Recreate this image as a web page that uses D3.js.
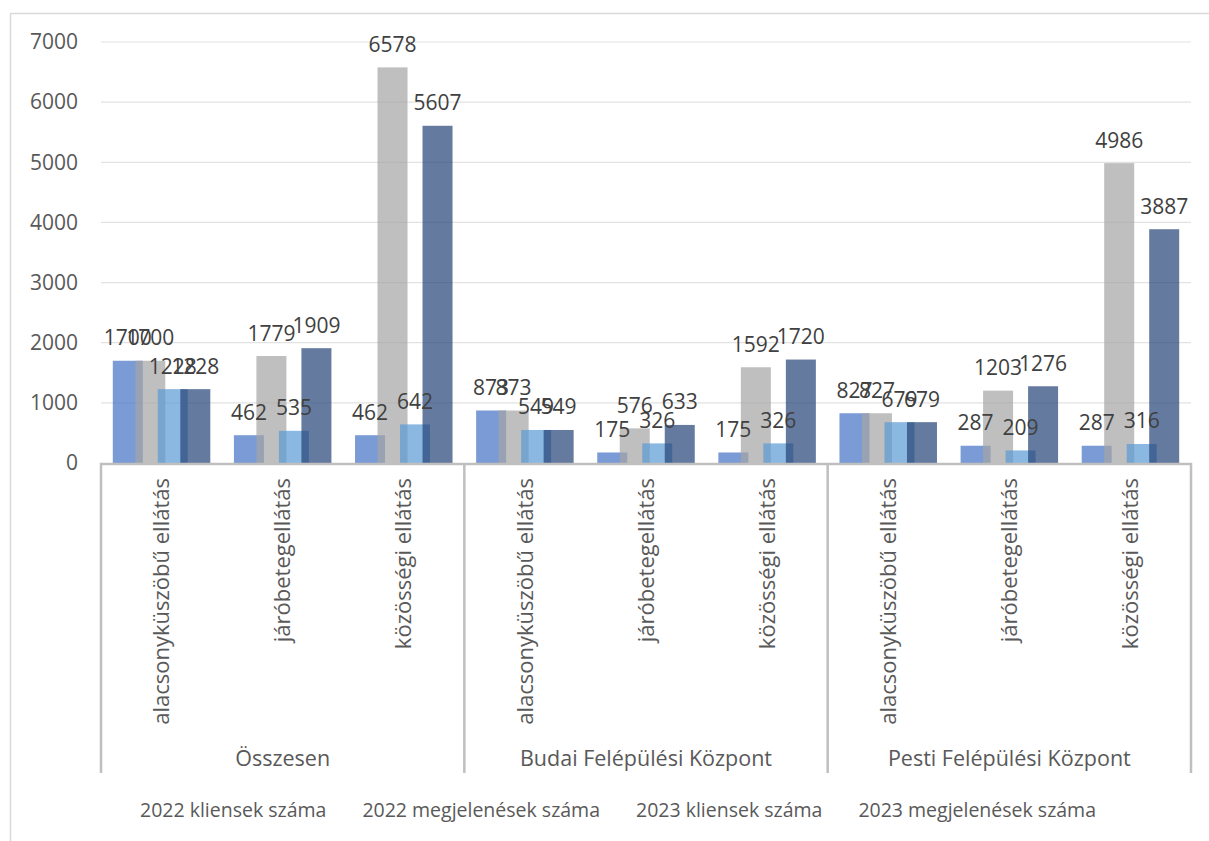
<!DOCTYPE html>
<html>
<head>
<meta charset="utf-8">
<title>Ellátás</title>
<script src="https://cdn.jsdelivr.net/npm/d3@7/dist/d3.min.js"></script>
<style>
	body { margin: 0; background: #fff; }
	text { font-family: "Open Sans", "Noto Sans", sans-serif; }
</style>
</head>
<body>
<div id="chart"></div>
<script>
	// adatok
	let groups = ["Összesen", "Budai Felépülési Központ", "Pesti Felépülési Központ"];
	let subcats = ["alacsonyküszöbű ellátás", "járóbetegellátás", "közösségi ellátás"];
	let seriesNames = ["2022 kliensek száma", "2022 megjelenések száma", "2023 kliensek száma", "2023 megjelenések száma"];
	let kliensek2022     = [1700, 462, 462,   873, 175, 175,   827, 287, 287];
	let megjelenesek2022 = [1700, 1779, 6578, 873, 576, 1592,  827, 1203, 4986];
	let kliensek2023     = [1228, 535, 642,   549, 326, 326,   679, 209, 316];
	let megjelenesek2023 = [1228, 1909, 5607, 549, 633, 1720,  679, 1276, 3887];
	let yTicks = [0, 1000, 2000, 3000, 4000, 5000, 6000, 7000];

	let seriesValues = [kliensek2022, megjelenesek2022, kliensek2023, megjelenesek2023];
	let colors = ["#4472C4", "#A5A5A5", "#5B9BD5", "#264478"];

	let width = 1209, height = 841;
	let plotLeft = 101, plotRight = 1191, plotTop = 42, plotBottom = 463;

	let svg = d3.select("#chart").append("svg")
		.attr("width", width).attr("height", height);

	// keret
	svg.append("rect")
		.attr("x", 10.5).attr("y", 13.5)
		.attr("width", 1220).attr("height", 900)
		.attr("fill", "none").attr("stroke", "#D9D9D9").attr("stroke-width", 1.5);

	// kategoriak: csoport|alkategoria
	let cats = [];
	groups.forEach(g => subcats.forEach(s => cats.push(g + "|" + s)));

	let x = d3.scaleBand().domain(cats).range([plotLeft, plotRight]);
	let y = d3.scaleLinear().domain([0, 7000]).range([plotBottom, plotTop]);

	// racsvonalak
	svg.append("g").selectAll("line").data(yTicks.slice(1)).join("line")
		.attr("x1", plotLeft).attr("x2", plotRight)
		.attr("y1", d => y(d)).attr("y2", d => y(d))
		.attr("stroke", "#E2E2E2").attr("stroke-width", 1.2);

	// y tengely feliratok
	svg.append("g").selectAll("text").data(yTicks).join("text")
		.attr("x", 78).attr("y", d => y(d))
		.attr("dy", "0.35em")
		.attr("text-anchor", "end")
		.attr("font-size", 21)
		.attr("fill", "#595959")
		.text(d => d);

	// oszlopok
	let barW = 30, step = 22.5;
	let inner = d3.scaleLinear().domain([0, 3]).range([-1.5 * step, 1.5 * step]);

	seriesValues.forEach((vals, si) => {
		let g = svg.append("g");
		g.selectAll("rect").data(vals).join("rect")
			.attr("x", (d, i) => x(cats[i]) + x.bandwidth() / 2 + inner(si) - barW / 2)
			.attr("y", d => y(d))
			.attr("width", barW)
			.attr("height", d => plotBottom - y(d))
			.attr("fill", colors[si])
			.attr("fill-opacity", 0.71);
	});

	// ertekcimkek
	seriesValues.forEach((vals, si) => {
		svg.append("g").selectAll("text").data(vals).join("text")
			.attr("x", (d, i) => x(cats[i]) + x.bandwidth() / 2 + inner(si))
			.attr("y", d => y(d) - 15.5)
			.attr("text-anchor", "middle")
			.attr("font-size", 21)
			.attr("fill", "#404040")
			.text(d => d);
	});

	// x tengely
	let axisColor = "#BFBFBF";
	svg.append("line")
		.attr("x1", plotLeft - 1).attr("x2", plotRight + 1)
		.attr("y1", plotBottom + 1).attr("y2", plotBottom + 1)
		.attr("stroke", axisColor).attr("stroke-width", 2.5);

	let seps = [plotLeft, x(cats[3]), x(cats[6]), plotRight];
	svg.append("g").selectAll("line").data(seps).join("line")
		.attr("x1", d => d).attr("x2", d => d)
		.attr("y1", plotBottom).attr("y2", 773)
		.attr("stroke", axisColor).attr("stroke-width", 2.5);

	// alkategoria feliratok (forgatott)
	svg.append("g").selectAll("text").data(cats).join("text")
		.attr("transform", d => "translate(" + (x(d) + x.bandwidth() / 2) + ",478) rotate(-90)")
		.attr("dy", "0.35em")
		.attr("text-anchor", "end")
		.attr("font-size", 22)
		.attr("fill", "#595959")
		.text(d => d.split("|")[1]);

	// csoport feliratok
	svg.append("g").selectAll("text").data(groups).join("text")
		.attr("x", (d, i) => (seps[i] + seps[i + 1]) / 2)
		.attr("y", 758)
		.attr("dy", "0.35em")
		.attr("text-anchor", "middle")
		.attr("font-size", 21.5)
		.attr("fill", "#595959")
		.text(d => d);

	// jelmagyarazat
	let lx = 140;
	let legend = svg.append("g");
	seriesNames.forEach(name => {
		let t = legend.append("text")
			.attr("x", lx).attr("y", 810)
			.attr("dy", "0.35em")
			.attr("font-size", 19.5)
			.attr("fill", "#595959")
			.text(name);
		lx += t.node().getComputedTextLength() + 36;
	});
</script>
</body>
</html>
